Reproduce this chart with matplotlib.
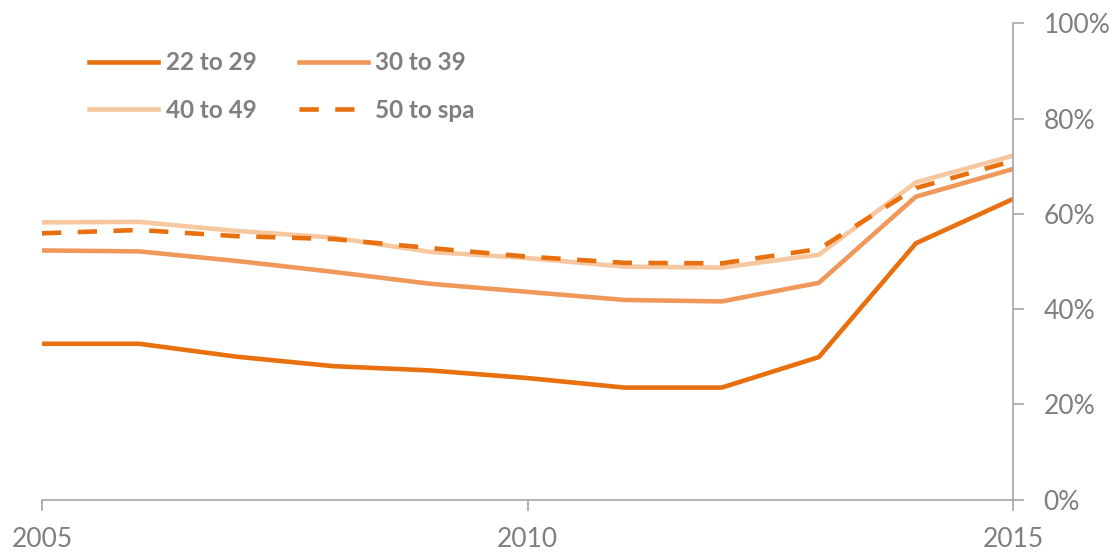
import matplotlib
matplotlib.use("Agg")
import matplotlib.pyplot as plt

years = [2005, 2006, 2007, 2008, 2009, 2010, 2011, 2012, 2013, 2014, 2015]
age_22_29 = [32.7, 32.7, 30.0, 28.0, 27.1, 25.5, 23.5, 23.5, 29.9, 53.8, 63.1]
age_30_39 = [52.3, 52.1, 50.1, 47.8, 45.3, 43.6, 41.9, 41.6, 45.5, 63.6, 69.4]
age_40_49 = [58.2, 58.3, 56.4, 55.0, 52.0, 50.7, 48.9, 48.7, 51.4, 66.6, 72.2]
age_50_spa = [55.9, 56.6, 55.3, 54.7, 52.8, 51.0, 49.7, 49.6, 52.6, 65.4, 71.1]
labels = ["22 to 29", "30 to 39", "40 to 49", "50 to spa"]
x_ticks = [2005, 2010, 2015]
y_ticks = [0, 20, 40, 60, 80, 100]

c_dark = "#E8700F"
c_mid = "#F0985A"
c_light = "#F7C7A0"
grey_text = "#7F7F7F"
grey_axis = "#A6A6A6"

plt.rcParams['font.family'] = ['Lato', 'DejaVu Sans']

fig = plt.figure(figsize=(11.17, 5.54), dpi=100)
ax = fig.add_axes([42/1117, 1-499.5/554, (1013-42)/1117, (499.5-23.3)/554])

lw = 3.3
l1, = ax.plot(years, age_22_29, color=c_dark, lw=lw, solid_joinstyle='round', label=labels[0])
l2, = ax.plot(years, age_30_39, color=c_mid, lw=lw, solid_joinstyle='round', label=labels[1])
l3, = ax.plot(years, age_40_49, color=c_light, lw=lw, solid_joinstyle='round', label=labels[2])
l4, = ax.plot(years, age_50_spa, color=c_dark, lw=lw, dashes=(4.2, 3.6), dash_capstyle='butt', label=labels[3])

ax.set_xlim(2005, 2015)
ax.set_ylim(0, 100)
ax.set_xticks(x_ticks)
ax.set_xticklabels([str(v) for v in x_ticks])
ax.set_yticks(y_ticks)
ax.set_yticklabels([f"{v}%" for v in y_ticks])

ax.yaxis.tick_right()
for s in ['top', 'left']:
    ax.spines[s].set_visible(False)
for s in ['bottom', 'right']:
    ax.spines[s].set_color(grey_axis)
    ax.spines[s].set_linewidth(1.2)

ax.tick_params(axis='x', direction='out', length=8, width=1.2, color=grey_axis,
               labelsize=19, labelcolor=grey_text, pad=12)
ax.tick_params(axis='y', direction='out', length=8, width=1.2, color=grey_axis,
               labelsize=19, labelcolor=grey_text, pad=14)

handles = [l1, l3, l2, l4]
leg = fig.legend(handles=handles, labels=[h.get_label() for h in handles], ncol=2,
                 loc='center left', bbox_to_anchor=(89/1117, 1-86.5/554),
                 bbox_transform=fig.transFigure, frameon=False,
                 borderpad=0, borderaxespad=0, handlelength=2.85,
                 handletextpad=0.3, columnspacing=1.75, labelspacing=1.0,
                 prop={'family': 'Lato', 'weight': 'bold', 'size': 17.5})
for t in leg.get_texts():
    t.set_color(grey_text)

fig.savefig("out.png", dpi=100)
